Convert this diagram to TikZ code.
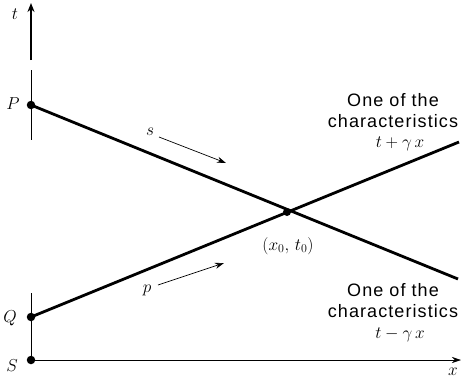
\documentclass[tikz,border=0pt]{standalone}
\usepackage{fontspec}
\setsansfont{Liberation Sans}
\newfontfamily\capfont{Liberation Sans}[LetterSpace=6]
\usetikzlibrary{arrows.meta}
\begin{document}
\begin{tikzpicture}[x=1pt,y=-1pt,
  charline/.style={line width=2.8pt},
  axisline/.style={line width=0.6pt},
  dotpt/.style={circle,fill,inner sep=0pt,minimum size=8.5pt},
  lbl/.style={font=\fontsize{17}{20}\selectfont,inner sep=0pt},
  captext/.style={font=\capfont\fontsize{18}{22}\selectfont,anchor=base,inner sep=0pt},
  mathcap/.style={font=\fontsize{17}{20}\selectfont,anchor=base,inner sep=0pt},
  smallarrow/.style={-{Stealth[length=9pt,width=6pt]},line width=0.7pt}]
\useasboundingbox (0,0) rectangle (461,381);
% points
\node[dotpt] (P) at (31,105) {};
\node[dotpt] (Q) at (31,317) {};
\node[dotpt] (S) at (31,360) {};
\node[dotpt,minimum size=8pt] (C) at (287,212) {};
\coordinate (E1) at (458,279);
\coordinate (E2) at (459,142);
\coordinate (Xend) at (461,360);
\coordinate (Ttop) at (31,3);
\coordinate (Tthick) at (31,60);
\coordinate (TthinA) at (31,70);
\coordinate (Tthin) at (31,140);
\coordinate (Tlow) at (31,293);
% axes
\draw[line width=1.6pt,-{Stealth[length=9pt,width=7pt]}] (Tthick) -- (Ttop);
\draw[axisline] (TthinA) -- (Tthin);
\draw[axisline] (Tlow) -- (S.center);
\draw[axisline,-{Stealth[length=9pt,width=6pt]}] (S.center) -- (Xend);
% characteristics
\draw[charline] (P.center) -- (E1);
\draw[charline] (Q.center) -- (E2);
% labels
\node[lbl] (lt) at (15,14) {$t$};
\node[lbl] (lP) at (13,104) {$P$};
\node[lbl] (lQ) at (10,318) {$Q$};
\node[lbl] (lS) at (12,366) {$S$};
\node[lbl] (lx) at (453,372) {$x$};
\node[lbl] (ls) at (150,132) {$s$};
\node[lbl] (lp) at (147,290) {$p$};
\node[lbl] (lC) at (288,246) {$(x_0,\,t_0)$};
% small arrows
\coordinate (sa) at (159,137);
\coordinate (sb) at (226,163);
\coordinate (pa) at (158,285);
\coordinate (pb) at (224,263);
\draw[smallarrow] (sa) -- (sb);
\draw[smallarrow] (pa) -- (pb);
% captions
\node[captext] (u1) at (393,106) {One of the};
\node[captext] (u2) at (393,127) {characteristics};
\node[mathcap] (u3) at (400,147) {$t+\gamma\,x$};
\node[captext] (d1) at (393,296) {One of the};
\node[captext] (d2) at (393,317) {characteristics};
\node[mathcap] (d3) at (400,338) {$t-\gamma\,x$};
\end{tikzpicture}
\end{document}
